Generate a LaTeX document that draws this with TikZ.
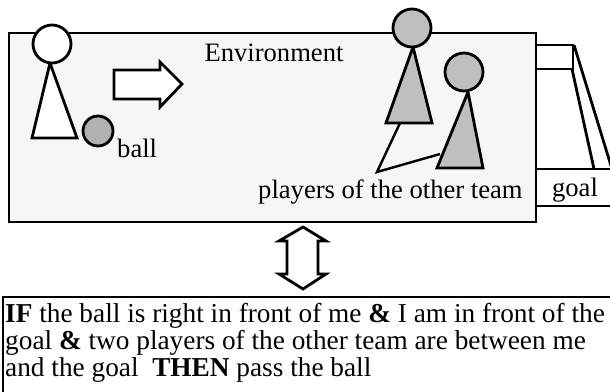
\documentclass[tikz,border=0pt]{standalone}
\usepackage{fontspec}
\setmainfont{Liberation Serif}
\usepackage{tikz}
\usetikzlibrary{positioning}
\tikzset{body/.style={draw=black, line width=2.8pt, line join=miter},
	other/.style={body, fill=gray!50},
	txt/.style={inner sep=0pt, font=\fontsize{26.6}{27.5}\selectfont}}

\begin{document}
\begin{tikzpicture}[x=1pt, y=-1pt]
		\useasboundingbox (0,0) rectangle (610,391);
		% environment
		\draw[line width=2.8pt, fill=gray!7] (9,33) rectangle (536,222);
		\node[txt, anchor=base] (env) at (274,61) {Environment};
		% me and the ball
		\draw[body, fill=white] (50,63) -- (77,138) -- (32,138) -- cycle;
		\node[body, circle, fill=white, minimum size=38pt, inner sep=0pt] (me) at (52,44) {};
		\node[body, circle, fill=gray!60, minimum size=30pt, inner sep=0pt] (ball) at (98,131) {};
		\node[txt, anchor=base west] (balllabel) at (117,157) {ball};
		\draw[body, fill=white] (114,70) -- (160,70) -- (160,62) -- (182,84) -- (160,107) -- (160,99) -- (114,99) -- cycle;
		% players of the other team
		\draw[other] (413,47) -- (432,123) -- (386,123) -- cycle;
		\node[other, circle, minimum size=38pt, inner sep=0pt] (opp1) at (412,28) {};
		\draw[other] (468,92) -- (483,168) -- (437,168) -- cycle;
		\node[other, circle, minimum size=38pt, inner sep=0pt] (opp2) at (464,72) {};
		\node[txt, anchor=base west] (opplabel) at (258,198) {players of the other team};
		\coordinate (foot1) at (400,123);
		\coordinate (foot2) at (440,154);
		\coordinate (meet) at (377,172);
		\draw[line width=2.4pt] (foot1) -- (meet) -- (foot2);
		% goal
		\draw[body] (536,45) rectangle (573,69);
		\draw[body] (572,69) -- (594,169);
		\draw[body] (574,45) -- (612,169);
		\draw[body] (536,169) -- (615,169) (536,206) -- (615,206);
		\node[txt, anchor=base] (goal) at (575,196) {goal};
		% sensing and acting
		\draw[body, fill=white] (303,227) -- (326,241) -- (318,241) -- (318,274) -- (326,274) -- (303,289) -- (279,274) -- (287,274) -- (287,241) -- (279,241) -- cycle;
		% rule
		\draw[line width=2.8pt] (615,297) -- (3,297) -- (3,395);
		\node[txt, anchor=north west, align=left, font=\fontsize{27.3}{27}\selectfont] (rule) at (5,303.5) {\textbf{IF} the ball is right in front of me \textbf{\&} I am in front of the\\
			goal \textbf{\&} two players of the other team are between me\\
			and the goal \ \textbf{THEN} pass the ball};
	\end{tikzpicture}
\end{document}
